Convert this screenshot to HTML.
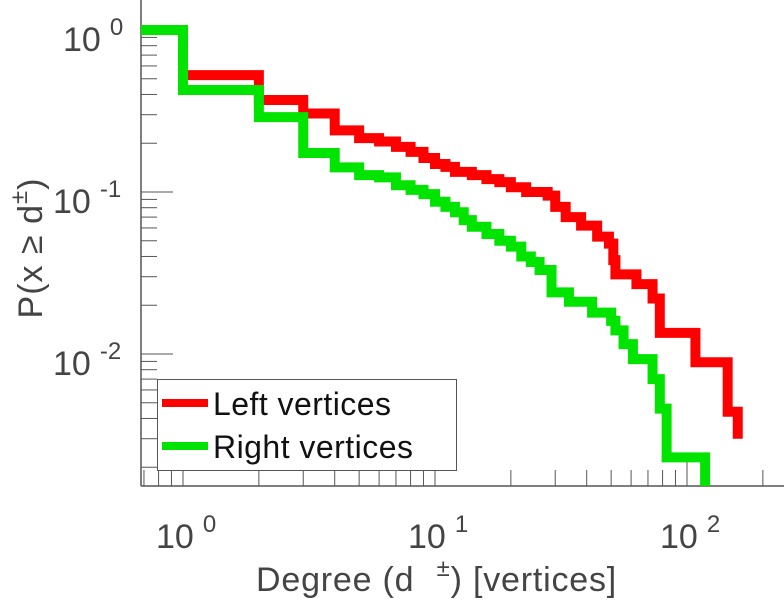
<!DOCTYPE html>
<html><head><meta charset="utf-8"><style>
html,body{margin:0;padding:0;background:#fff;}
svg{display:block;font-family:"Liberation Sans",sans-serif;}
</style></head><body>
<svg id="chart" width="784" height="600" viewBox="0 0 784 600">
<defs><clipPath id="plotclip"><rect x="141" y="0" width="643" height="486"/></clipPath></defs>
<g id="axes"></g>
<g id="series" clip-path="url(#plotclip)"></g>
<g>
<rect x="157.5" y="379.5" width="299" height="91" fill="#fff" stroke="#555" stroke-width="1"/>
<line x1="162" y1="403" x2="208" y2="403" stroke="#ff0000" stroke-width="8"/>
<text x="213" y="415" font-size="32" textLength="178" fill="#111">Left vertices</text>
<line x1="162" y1="446" x2="208" y2="446" stroke="#00e400" stroke-width="8"/>
<text x="213" y="458" font-size="32" textLength="200" fill="#111">Right vertices</text>
</g>
<text x="256" y="591" font-size="34" letter-spacing="0.8" fill="#444">Degree (d <tspan dx="12" dy="-15" font-size="24">±</tspan><tspan dy="15">) [vertices]</tspan></text>
<text transform="translate(42,248) rotate(-90)" font-size="34" letter-spacing="1" fill="#444" text-anchor="middle">P(x ≥ d<tspan dy="-15" font-size="24">±</tspan><tspan dy="15">)</tspan></text>
</svg>
<script>
const leftDegree = [1,2,3,4,5,6,7,8,9,10,11,12,14,16,18,20,23,28,30,33,38,44,49,51,52,63,73,78,108,145,159];
const leftCcdf = [0.527,0.37,0.305,0.24,0.215,0.205,0.19,0.177,0.162,0.149,0.143,0.133,0.127,0.12,0.115,0.107,0.1,0.095,0.081,0.07,0.062,0.053,0.048,0.038,0.031,0.027,0.022,0.0135,0.0089,0.0044,0.003];
const rightDegree = [0.5,1,2,3,4,5,6,7,8,9,10,11,12,13,14,16,18,20,22,24,26,29,34,42,50,52,56,61,73,78,83,118];
const rightCcdf = [1.0,0.426,0.29,0.174,0.142,0.127,0.123,0.11,0.103,0.097,0.087,0.081,0.075,0.067,0.061,0.055,0.05,0.046,0.04,0.037,0.033,0.024,0.021,0.018,0.016,0.014,0.0115,0.0093,0.007,0.0046,0.0023,0.0008];
const xMajorTicks = [1,10,100];
const xTickExp = ["0","1","2"];
const yMajorTicks = [1,0.1,0.01];
const yTickExp = ["0","-1","-2"];

const NS = "http://www.w3.org/2000/svg";
function xs(d){ return 183 + 252*Math.log10(d); }
function ys(v){ return 30 - 162*Math.log10(v); }
function mk(tag, attrs, parent){ const e=document.createElementNS(NS,tag); for(const k in attrs) e.setAttribute(k,attrs[k]); parent.appendChild(e); return e; }

const axes = document.getElementById('axes');
const series = document.getElementById('series');
const ax = 141, ay = 486;
for (let p=-1;p<=2;p++){ for(let m=2;m<=9;m++){ const d=m*Math.pow(10,p); const x=xs(d); if(x<ax||x>784) continue;
  const t=mk('line',{x1:x,y1:ay,x2:x,y2:ay-16,stroke:'#555','stroke-width':1},axes);
  
   } }
for (let p=-3;p<=0;p++){ for(let m=2;m<=9;m++){ const v=m*Math.pow(10,p); const y=ys(v); if(y<0||y>ay) continue;
  const t=mk('line',{x1:ax,y1:y,x2:ax+16,y2:y,stroke:'#555','stroke-width':1},axes);
  
   } }
xMajorTicks.forEach((d,i)=>{ const x=xs(d);
  const t=mk('line',{x1:x,y1:ay,x2:x,y2:ay-24,stroke:'#555','stroke-width':1},axes);
  
  
  const tx=mk('text',{x:x-27,y:548,'font-size':34,fill:'#444'},axes);
  
  
  tx.textContent='10';
  const sp=mk('tspan',{dx:9,dy:-16,'font-size':24},tx); sp.textContent=xTickExp[i];
});
yMajorTicks.forEach((v,i)=>{ const y=ys(v);
  const t=mk('line',{x1:ax,y1:y,x2:ax+32,y2:y,stroke:'#555','stroke-width':1},axes);
  
  
  const tx=mk('text',{x:i===0?63:53,y:y+21,'font-size':34,fill:'#444'},axes);
  
  
  tx.textContent='10';
  const sp=mk('tspan',{dx:9,dy:-16,'font-size':24},tx); sp.textContent=yTickExp[i];
});
const xl=mk('line',{x1:ax,y1:ay,x2:784,y2:ay,stroke:'#555','stroke-width':1.5},axes);


const yl=mk('line',{x1:ax,y1:0,x2:ax,y2:ay,stroke:'#555','stroke-width':1.5},axes);



function stairs(deg, val, color, name){
  let d='';
  for(let i=0;i<deg.length;i++){
    const x=xs(deg[i]), y=ys(val[i]);
    if(i===0){ d+='M'+x+' '+y; }
    else { d+=' V'+y; }
    if(i<deg.length-1){ d+=' H'+xs(deg[i+1]); }
  }
  const p=mk('path',{d:d,fill:'none',stroke:color,'stroke-width':10,'stroke-linejoin':'miter','stroke-linecap':'butt'},series);
  
  
}
stairs(leftDegree,leftCcdf,'#ff0000','left-vertices-line');
stairs(rightDegree,rightCcdf,'#00e400','right-vertices-line');
</script>
</body></html>
